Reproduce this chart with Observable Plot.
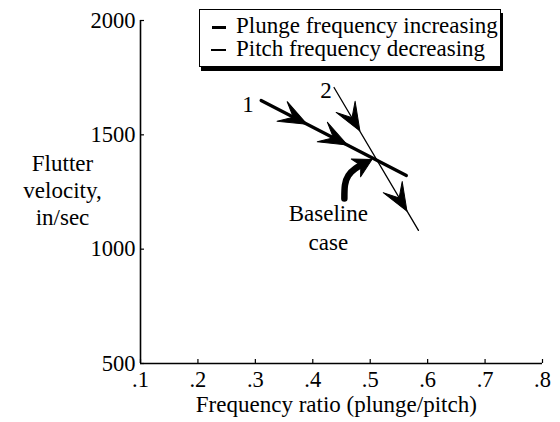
<!DOCTYPE html>
<html>
<head>
<meta charset="utf-8">
<script src="https://cdn.jsdelivr.net/npm/d3@7"></script>
<script src="https://cdn.jsdelivr.net/npm/@observablehq/plot@0.6"></script>
<style>
  html, body { margin: 0; padding: 0; background: #fff; }
  #wrap { position: relative; width: 560px; height: 422px; font-family: "Liberation Serif", "Times New Roman", serif; }
  #legend { position: absolute; left: 199px; top: 9px; width: 300px; height: 56px; border: 1.5px solid #000;
            box-shadow: 2px 4px 0 #000; background: #fff; font-size: 23px; line-height: 23px; color: #000; box-sizing: content-box; }
  #legend .row { position: relative; height: 23px; padding-left: 36px; white-space: nowrap; }
  #legend .row:first-child { margin-top: 4px; }
  #legend .sw { position: absolute; left: 12px; top: 12px; width: 14px; background: #000; }
</style>
</head>
<body>
<div id="wrap">
  <div id="legend">
    <div class="row"><span class="sw" style="height:3px"></span>Plunge frequency increasing</div>
    <div class="row"><span class="sw" style="height:1.5px;top:12px;left:11px;width:15px"></span>Pitch frequency decreasing</div>
  </div>
</div>
<script>
// ---- data ----
const xTicks = [0.1, 0.2, 0.3, 0.4, 0.5, 0.6, 0.7, 0.8];
const yTicks = [500, 1000, 1500, 2000];

// line 1: plunge frequency increasing (thick)
const plungeX = [0.310, 0.563];
const plungeY = [1650, 1322];
// line 2: pitch frequency decreasing (thin)
const pitchX = [0.437, 0.584];
const pitchY = [1707, 1082];

// arrowheads along the lines (tip positions)
const arrowLine = ["plunge", "plunge", "pitch", "pitch"];
const arrowX = [0.390, 0.460, 0.482, 0.564];
const arrowY = [1546, 1456, 1517, 1166];

// curved arrow pointing to baseline case
const curveX = [0.455, 0.456, 0.462, 0.474, 0.490];
const curveY = [1222, 1280, 1322, 1352, 1375];
const curveTipX = [0.503];
const curveTipY = [1392];

// text labels
const labelText = ["1", "2", "Baseline", "case"];
const labelX = [0.287, 0.423, 0.427, 0.427];
const labelY = [1633, 1694, 1156, 1029];

// ---- layout ----
const W = 560, H = 422, mT = 20, mR = 18, mB = 59, mL = 140;
const xDomain = [0.1, 0.8], yDomain = [500, 2000];
const sx = d3.scaleLinear(xDomain, [mL, W - mR]);
const sy = d3.scaleLinear(yDomain, [H - mB, mT]);
const angle = (x0, y0, x1, y1) => {
  const dx = sx(x1) - sx(x0), dy = sy(y1) - sy(y0);
  return Math.atan2(dx, -dy) * 180 / Math.PI;
};
const lines = {plunge: [plungeX, plungeY], pitch: [pitchX, pitchY]};

const arrows = arrowX.map((x, i) => {
  const [lx, ly] = lines[arrowLine[i]];
  return {x, y: arrowY[i], r: angle(lx[0], ly[0], lx[1], ly[1])};
});
const n = curveX.length;
const curveTip = [{x: curveTipX[0], y: curveTipY[0], r: angle(curveX[n - 1], curveY[n - 1], curveTipX[0], curveTipY[0])}];

const barbed = (len, half, notch) => ({
  draw(ctx) {
    ctx.moveTo(0, 0);
    ctx.lineTo(half, len);
    ctx.lineTo(0, len * notch);
    ctx.lineTo(-half, len);
    ctx.closePath();
  }
});

const toRows = (xs, ys) => xs.map((x, i) => ({x, y: ys[i]}));

const chart = Plot.plot({
  width: W, height: H,
  marginTop: mT, marginRight: mR, marginBottom: mB, marginLeft: mL,
  style: {fontFamily: '"Liberation Serif", "Times New Roman", serif', fontSize: "22.5px", color: "#000", background: "transparent"},
  x: {domain: xDomain},
  y: {domain: yDomain},
  marks: [
    Plot.axisX({ticks: xTicks, tickSize: -4, tickPadding: 12, tickFormat: d => d3.format(".1f")(d).replace(/^0/, ""), label: null, strokeWidth: 1.2}),
    Plot.axisY({ticks: yTicks, tickSize: -4, tickPadding: 9, tickFormat: d => String(d), label: null, strokeWidth: 1.2}),
    Plot.ruleX([xDomain[0]], {stroke: "#000", strokeWidth: 1.6}),
    Plot.ruleY([yDomain[0]], {stroke: "#000", strokeWidth: 1.6}),
    Plot.line(toRows(plungeX, plungeY), {x: "x", y: "y", stroke: "#000", strokeWidth: 3.2}),
    Plot.line(toRows(pitchX, pitchY), {x: "x", y: "y", stroke: "#000", strokeWidth: 1.3}),
    Plot.vector(arrows, {x: "x", y: "y", rotate: "r", length: 28, anchor: "start", shape: barbed(28, 11, 0.55), fill: "#000", stroke: "#000", strokeWidth: 1}),
    Plot.line(toRows(curveX, curveY), {x: "x", y: "y", curve: "natural", stroke: "#000", strokeWidth: 6.5}),
    Plot.vector(curveTip, {x: "x", y: "y", rotate: "r", length: 18, anchor: "start", shape: barbed(18, 10, 0.7), fill: "#000", stroke: "#000", strokeWidth: 1}),
    Plot.text(labelText.map((t, i) => ({t, x: labelX[i], y: labelY[i]})), {x: "x", y: "y", text: "t", fontSize: 23}),
    Plot.text(["Flutter\nvelocity,\nin/sec"], {frameAnchor: "left", y: [1261], dx: -78, textAnchor: "middle", lineHeight: 1.17, fontSize: 23}),
    Plot.text(["Frequency ratio (plunge/pitch)"], {frameAnchor: "bottom", x: [0.441], dy: 48, fontSize: 23})
  ]
});
document.getElementById("wrap").prepend(chart);
chart.style.position = "absolute";
chart.style.left = "0";
chart.style.top = "0";
</script>
</body>
</html>
